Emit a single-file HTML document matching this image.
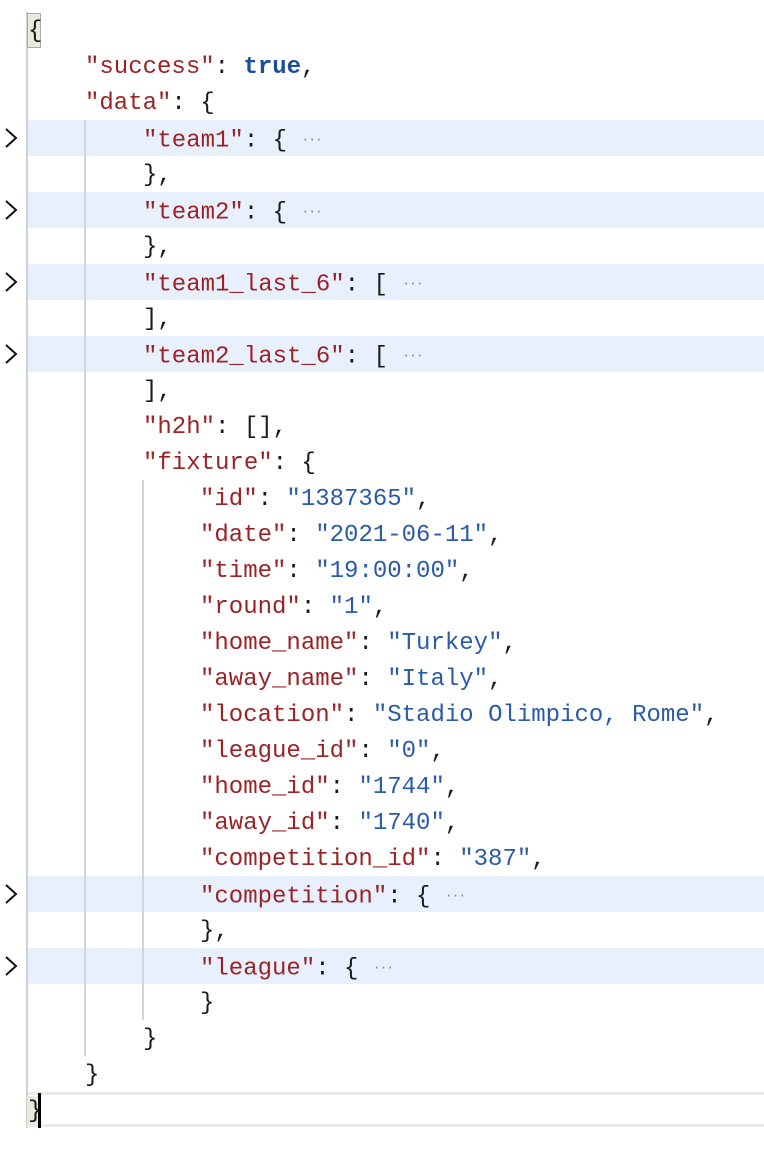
<!DOCTYPE html>
<html><head><meta charset="utf-8"><style>
html,body{margin:0;padding:0;background:#fff;width:764px;height:1150px;overflow:hidden;position:relative}
.l{position:absolute;left:0;height:36px;line-height:36px;margin-top:2px;font-family:"Liberation Mono",monospace;font-size:24px;white-space:pre;color:#1a1a1a}
.hl{position:absolute;left:28px;width:736px;height:36px;background:#e8f0fd}
.k{color:#9b2325}.s{color:#2a5aa8}.b{color:#1f4e99;font-weight:bold}
.e{color:#888;font-size:13px;vertical-align:middle;letter-spacing:-1px}
.g{position:absolute;width:2px;background:#d4d4d8}
.ch{position:absolute;left:2px;width:16px;height:24px}
</style></head><body>
<div class="hl" style="top:120px"></div>
<div class="hl" style="top:192px"></div>
<div class="hl" style="top:264px"></div>
<div class="hl" style="top:336px"></div>
<div class="hl" style="top:876px"></div>
<div class="hl" style="top:948px"></div>
<div style="position:absolute;left:28px;top:1092px;width:736px;height:3px;background:#ebebeb"></div>
<div style="position:absolute;left:28px;top:1124px;width:736px;height:3px;background:#ebebeb"></div>
<div class="g" style="left:26px;top:12px;height:1116px;background:#d0d0d0"></div>
<div class="g" style="left:84px;top:120px;height:936px"></div>
<div class="g" style="left:142px;top:480px;height:540px"></div>
<div style="position:absolute;left:27px;top:13px;width:12px;height:33px;background:#e6ebe1;border:1px solid #aaa"></div>
<div style="position:absolute;left:27px;top:1096px;width:12px;height:31px;background:#e6ebe1"></div>
<div style="position:absolute;left:38px;top:1093px;width:3px;height:35px;background:#000"></div>
<svg class="ch" style="top:126px" viewBox="0 0 16 24"><polyline points="4,3 14,12 4,21" fill="none" stroke="#111" stroke-width="2"/></svg>
<svg class="ch" style="top:198px" viewBox="0 0 16 24"><polyline points="4,3 14,12 4,21" fill="none" stroke="#111" stroke-width="2"/></svg>
<svg class="ch" style="top:270px" viewBox="0 0 16 24"><polyline points="4,3 14,12 4,21" fill="none" stroke="#111" stroke-width="2"/></svg>
<svg class="ch" style="top:342px" viewBox="0 0 16 24"><polyline points="4,3 14,12 4,21" fill="none" stroke="#111" stroke-width="2"/></svg>
<svg class="ch" style="top:882px" viewBox="0 0 16 24"><polyline points="4,3 14,12 4,21" fill="none" stroke="#111" stroke-width="2"/></svg>
<svg class="ch" style="top:954px" viewBox="0 0 16 24"><polyline points="4,3 14,12 4,21" fill="none" stroke="#111" stroke-width="2"/></svg>

<div class="l" style="top:12px;left:28px">{</div>
<div class="l" style="top:48px;left:85px"><span class="k">"success"</span>: <span class="b">true</span>,</div>
<div class="l" style="top:84px;left:85px"><span class="k">"data"</span>: {</div>
<div class="l" style="top:120px;left:143px"><span class="k">"team1"</span>: { <span class="e">···</span></div>
<div class="l" style="top:156px;left:143px">},</div>
<div class="l" style="top:192px;left:143px"><span class="k">"team2"</span>: { <span class="e">···</span></div>
<div class="l" style="top:228px;left:143px">},</div>
<div class="l" style="top:264px;left:143px"><span class="k">"team1_last_6"</span>: [ <span class="e">···</span></div>
<div class="l" style="top:300px;left:143px">],</div>
<div class="l" style="top:336px;left:143px"><span class="k">"team2_last_6"</span>: [ <span class="e">···</span></div>
<div class="l" style="top:372px;left:143px">],</div>
<div class="l" style="top:408px;left:143px"><span class="k">"h2h"</span>: [],</div>
<div class="l" style="top:444px;left:143px"><span class="k">"fixture"</span>: {</div>
<div class="l" style="top:480px;left:200px"><span class="k">"id"</span>: <span class="s">"1387365"</span>,</div>
<div class="l" style="top:516px;left:200px"><span class="k">"date"</span>: <span class="s">"2021-06-11"</span>,</div>
<div class="l" style="top:552px;left:200px"><span class="k">"time"</span>: <span class="s">"19:00:00"</span>,</div>
<div class="l" style="top:588px;left:200px"><span class="k">"round"</span>: <span class="s">"1"</span>,</div>
<div class="l" style="top:624px;left:200px"><span class="k">"home_name"</span>: <span class="s">"Turkey"</span>,</div>
<div class="l" style="top:660px;left:200px"><span class="k">"away_name"</span>: <span class="s">"Italy"</span>,</div>
<div class="l" style="top:696px;left:200px"><span class="k">"location"</span>: <span class="s">"Stadio Olimpico, Rome"</span>,</div>
<div class="l" style="top:732px;left:200px"><span class="k">"league_id"</span>: <span class="s">"0"</span>,</div>
<div class="l" style="top:768px;left:200px"><span class="k">"home_id"</span>: <span class="s">"1744"</span>,</div>
<div class="l" style="top:804px;left:200px"><span class="k">"away_id"</span>: <span class="s">"1740"</span>,</div>
<div class="l" style="top:840px;left:200px"><span class="k">"competition_id"</span>: <span class="s">"387"</span>,</div>
<div class="l" style="top:876px;left:200px"><span class="k">"competition"</span>: { <span class="e">···</span></div>
<div class="l" style="top:912px;left:200px">},</div>
<div class="l" style="top:948px;left:200px"><span class="k">"league"</span>: { <span class="e">···</span></div>
<div class="l" style="top:984px;left:200px">}</div>
<div class="l" style="top:1020px;left:143px">}</div>
<div class="l" style="top:1056px;left:85px">}</div>
<div class="l" style="top:1092px;left:28px">}</div>
</body></html>
